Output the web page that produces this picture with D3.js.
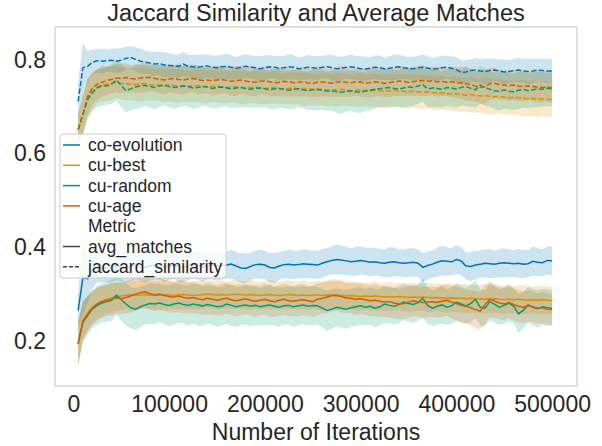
<!DOCTYPE html>
<html>
<head>
<meta charset="UTF-8">
<title>Jaccard Similarity and Average Matches</title>
<script src="https://d3js.org/d3.v7.min.js"></script>
<style>
    body { margin: 0; background: #fff; }
    svg { display: block; font-family: "Liberation Sans", Arial, sans-serif; }
</style>
</head>
<body>
<svg id="chart" width="602" height="446"></svg>
<script>
    // sampled every 5000 iterations
    const iterations = d3.range(5000, 500001, 5000);
    const algorithms = ["co-evolution", "cu-best", "cu-random", "cu-age"];
    const metrics = ["avg_matches", "jaccard_similarity"];
    const xTicks = [0, 100000, 200000, 300000, 400000, 500000];
    const yTicks = [0.2, 0.4, 0.6, 0.8];

    // jaccard_similarity means
    const coevoJaccard = [
        0.711,0.783,0.786,0.795,0.798,0.797,0.798,0.799,0.797,0.799,
        0.803,0.805,0.801,0.797,0.795,0.793,0.791,0.792,0.789,0.788,
        0.787,0.786,0.791,0.786,0.785,0.784,0.786,0.787,0.784,0.783,
        0.785,0.786,0.784,0.782,0.784,0.786,0.785,0.783,0.781,0.783,
        0.785,0.784,0.782,0.783,0.785,0.784,0.781,0.782,0.784,0.783,
        0.782,0.784,0.785,0.783,0.781,0.782,0.784,0.785,0.783,0.781,
        0.780,0.782,0.784,0.783,0.781,0.782,0.784,0.785,0.783,0.782,
        0.781,0.783,0.784,0.782,0.780,0.781,0.783,0.784,0.782,0.779,
        0.773,0.774,0.777,0.778,0.776,0.775,0.777,0.778,0.776,0.774,
        0.775,0.777,0.778,0.776,0.775,0.776,0.778,0.777,0.776,0.776];
    const bestJaccard = [
        0.651,0.683,0.718,0.733,0.742,0.746,0.748,0.750,0.752,0.750,
        0.749,0.748,0.747,0.748,0.749,0.747,0.746,0.747,0.745,0.746,
        0.745,0.744,0.745,0.743,0.744,0.745,0.743,0.742,0.743,0.744,
        0.742,0.741,0.742,0.743,0.741,0.740,0.741,0.742,0.740,0.739,
        0.740,0.741,0.739,0.738,0.739,0.740,0.738,0.737,0.738,0.737,
        0.736,0.737,0.736,0.735,0.736,0.737,0.735,0.734,0.735,0.736,
        0.735,0.734,0.735,0.734,0.733,0.734,0.735,0.734,0.733,0.732,
        0.733,0.732,0.731,0.732,0.730,0.729,0.730,0.728,0.727,0.728,
        0.726,0.725,0.726,0.724,0.723,0.724,0.722,0.721,0.722,0.720,
        0.719,0.720,0.719,0.718,0.717,0.718,0.716,0.717,0.716,0.715];
    const randomJaccard = [
        0.651,0.683,0.715,0.730,0.740,0.745,0.744,0.748,0.757,0.745,
        0.734,0.738,0.742,0.744,0.745,0.743,0.741,0.744,0.746,0.743,
        0.741,0.742,0.744,0.743,0.740,0.741,0.743,0.742,0.739,0.741,
        0.742,0.740,0.738,0.740,0.741,0.739,0.737,0.739,0.740,0.738,
        0.736,0.738,0.739,0.737,0.735,0.737,0.738,0.736,0.734,0.736,
        0.737,0.735,0.733,0.734,0.732,0.731,0.733,0.734,0.732,0.731,
        0.733,0.735,0.737,0.738,0.740,0.741,0.739,0.738,0.740,0.742,
        0.741,0.744,0.747,0.738,0.740,0.739,0.737,0.741,0.740,0.738,
        0.741,0.743,0.739,0.736,0.746,0.741,0.737,0.734,0.733,0.736,
        0.733,0.732,0.735,0.737,0.734,0.736,0.738,0.737,0.739,0.738];
    const ageJaccard = [
        0.651,0.683,0.722,0.740,0.748,0.752,0.756,0.758,0.761,0.760,
        0.762,0.760,0.759,0.761,0.762,0.763,0.760,0.758,0.757,0.759,
        0.760,0.758,0.757,0.759,0.760,0.758,0.756,0.757,0.755,0.757,
        0.758,0.756,0.754,0.755,0.757,0.755,0.753,0.752,0.754,0.755,
        0.753,0.751,0.752,0.754,0.753,0.751,0.752,0.753,0.751,0.750,
        0.752,0.753,0.751,0.750,0.752,0.754,0.752,0.751,0.753,0.752,
        0.750,0.751,0.753,0.752,0.750,0.751,0.753,0.755,0.754,0.752,
        0.753,0.755,0.756,0.754,0.755,0.753,0.754,0.752,0.753,0.751,
        0.751,0.749,0.747,0.744,0.741,0.743,0.749,0.750,0.747,0.746,
        0.745,0.746,0.744,0.743,0.744,0.743,0.742,0.741,0.742,0.740];

    // avg_matches means
    const coevoMatches = [
        0.265,0.335,0.333,0.352,0.358,0.356,0.355,0.358,0.360,0.357,
        0.356,0.359,0.361,0.358,0.357,0.360,0.362,0.359,0.358,0.360,
        0.361,0.359,0.357,0.360,0.362,0.361,0.358,0.360,0.362,0.360,
        0.361,0.362,0.364,0.360,0.356,0.355,0.359,0.363,0.364,0.362,
        0.357,0.356,0.360,0.363,0.364,0.362,0.363,0.365,0.364,0.363,
        0.362,0.366,0.369,0.372,0.374,0.373,0.371,0.369,0.370,0.372,
        0.370,0.368,0.369,0.367,0.366,0.368,0.369,0.367,0.366,0.367,
        0.368,0.366,0.357,0.361,0.364,0.368,0.371,0.370,0.369,0.374,
        0.371,0.360,0.359,0.362,0.364,0.366,0.365,0.364,0.366,0.367,
        0.366,0.365,0.366,0.364,0.365,0.370,0.368,0.367,0.372,0.371];
    const bestMatches = [
        0.194,0.243,0.260,0.272,0.280,0.285,0.289,0.292,0.294,0.296,
        0.297,0.298,0.297,0.298,0.299,0.298,0.297,0.298,0.299,0.298,
        0.297,0.298,0.299,0.298,0.297,0.298,0.299,0.300,0.299,0.298,
        0.299,0.298,0.299,0.300,0.299,0.298,0.299,0.298,0.297,0.298,
        0.299,0.298,0.297,0.298,0.299,0.298,0.297,0.298,0.297,0.298,
        0.298,0.297,0.298,0.297,0.296,0.297,0.296,0.297,0.296,0.295,
        0.296,0.295,0.296,0.295,0.294,0.295,0.294,0.295,0.294,0.293,
        0.294,0.293,0.294,0.293,0.292,0.293,0.292,0.291,0.292,0.291,
        0.291,0.290,0.291,0.290,0.289,0.290,0.289,0.290,0.289,0.288,
        0.289,0.288,0.289,0.288,0.287,0.288,0.287,0.288,0.287,0.286];
    const randomMatches = [
        0.194,0.240,0.255,0.268,0.276,0.281,0.284,0.287,0.298,0.288,
        0.279,0.271,0.268,0.273,0.277,0.280,0.279,0.281,0.278,0.276,
        0.279,0.281,0.278,0.276,0.279,0.277,0.275,0.278,0.276,0.273,
        0.274,0.279,0.276,0.273,0.275,0.277,0.274,0.276,0.273,0.275,
        0.277,0.274,0.272,0.275,0.276,0.273,0.275,0.277,0.274,0.276,
        0.275,0.270,0.265,0.268,0.272,0.270,0.268,0.271,0.273,0.275,
        0.272,0.274,0.270,0.273,0.279,0.276,0.274,0.278,0.283,0.280,
        0.278,0.282,0.291,0.276,0.270,0.274,0.277,0.272,0.275,0.283,
        0.279,0.275,0.280,0.289,0.272,0.270,0.284,0.278,0.272,0.276,
        0.281,0.274,0.258,0.266,0.277,0.272,0.269,0.273,0.271,0.270];
    const ageMatches = [
        0.194,0.243,0.257,0.270,0.279,0.284,0.287,0.289,0.292,0.290,
        0.293,0.296,0.300,0.303,0.305,0.301,0.298,0.300,0.297,0.295,
        0.294,0.296,0.293,0.291,0.293,0.290,0.288,0.291,0.289,0.287,
        0.289,0.291,0.288,0.286,0.288,0.290,0.287,0.285,0.287,0.289,
        0.286,0.284,0.287,0.289,0.286,0.285,0.287,0.288,0.286,0.284,
        0.289,0.291,0.294,0.297,0.298,0.295,0.292,0.291,0.289,0.290,
        0.288,0.286,0.287,0.285,0.283,0.284,0.281,0.279,0.280,0.283,
        0.286,0.284,0.282,0.283,0.284,0.282,0.285,0.287,0.283,0.280,
        0.276,0.274,0.271,0.267,0.264,0.278,0.289,0.285,0.281,0.279,
        0.282,0.278,0.274,0.272,0.275,0.273,0.270,0.271,0.268,0.267];

    // 95% CI half widths
    const coevoJaccardCi = [
        0.040,0.053,0.032,0.027,0.025,0.026,0.024,0.025,0.027,0.026,
        0.025,0.024,0.026,0.027,0.025,0.024,0.026,0.025,0.027,0.026,
        0.024,0.025,0.026,0.024,0.025,0.027,0.026,0.024,0.025,0.026,
        0.025,0.027,0.026,0.024,0.025,0.026,0.024,0.025,0.027,0.026,
        0.025,0.024,0.026,0.025,0.027,0.026,0.024,0.025,0.026,0.025,
        0.026,0.024,0.025,0.027,0.026,0.025,0.024,0.026,0.025,0.027,
        0.026,0.024,0.025,0.026,0.024,0.025,0.027,0.026,0.025,0.024,
        0.026,0.025,0.027,0.026,0.024,0.025,0.026,0.024,0.025,0.027,
        0.026,0.025,0.024,0.026,0.025,0.027,0.026,0.024,0.025,0.026,
        0.025,0.024,0.026,0.025,0.027,0.026,0.024,0.025,0.026,0.025];
    const bestJaccardCi = [
        0.030,0.042,0.040,0.038,0.036,0.035,0.037,0.036,0.034,0.035,
        0.036,0.034,0.035,0.037,0.036,0.034,0.033,0.035,0.036,0.034,
        0.035,0.036,0.034,0.033,0.035,0.034,0.036,0.035,0.033,0.034,
        0.035,0.034,0.033,0.035,0.036,0.034,0.033,0.034,0.035,0.034,
        0.033,0.035,0.034,0.033,0.034,0.035,0.034,0.036,0.035,0.034,
        0.033,0.034,0.035,0.034,0.036,0.035,0.034,0.033,0.035,0.036,
        0.034,0.035,0.036,0.034,0.035,0.036,0.035,0.034,0.036,0.037,
        0.035,0.036,0.037,0.035,0.036,0.037,0.036,0.035,0.037,0.038,
        0.037,0.036,0.038,0.037,0.036,0.038,0.039,0.037,0.036,0.038,
        0.037,0.036,0.038,0.039,0.037,0.038,0.039,0.038,0.037,0.038];
    const randomJaccardCi = [
        0.030,0.045,0.042,0.040,0.041,0.043,0.040,0.042,0.044,0.046,
        0.047,0.045,0.048,0.046,0.044,0.045,0.047,0.045,0.043,0.044,
        0.046,0.044,0.042,0.043,0.045,0.044,0.042,0.041,0.043,0.044,
        0.042,0.040,0.041,0.043,0.042,0.040,0.039,0.041,0.042,0.040,
        0.041,0.043,0.042,0.040,0.041,0.042,0.040,0.039,0.041,0.043,
        0.044,0.042,0.041,0.043,0.045,0.046,0.044,0.043,0.045,0.044,
        0.042,0.043,0.041,0.040,0.042,0.041,0.039,0.040,0.042,0.041,
        0.040,0.038,0.036,0.039,0.041,0.040,0.038,0.039,0.041,0.040,
        0.039,0.041,0.040,0.038,0.040,0.039,0.037,0.039,0.041,0.040,
        0.039,0.038,0.040,0.039,0.037,0.038,0.039,0.037,0.038,0.037];
    const ageJaccardCi = [
        0.030,0.040,0.038,0.035,0.032,0.030,0.031,0.029,0.030,0.032,
        0.031,0.029,0.030,0.032,0.031,0.030,0.028,0.030,0.031,0.029,
        0.030,0.032,0.031,0.029,0.030,0.031,0.029,0.028,0.030,0.031,
        0.030,0.029,0.031,0.032,0.030,0.029,0.031,0.030,0.028,0.030,
        0.031,0.029,0.030,0.032,0.031,0.029,0.030,0.031,0.029,0.030,
        0.032,0.031,0.029,0.030,0.031,0.033,0.031,0.030,0.029,0.031,
        0.030,0.032,0.031,0.029,0.030,0.031,0.030,0.032,0.031,0.029,
        0.030,0.031,0.033,0.031,0.030,0.032,0.031,0.030,0.032,0.033,
        0.034,0.036,0.035,0.033,0.035,0.037,0.034,0.033,0.032,0.031,
        0.032,0.033,0.031,0.032,0.030,0.031,0.033,0.032,0.031,0.032];
    const coevoMatchesCi = [
        0.035,0.080,0.050,0.040,0.033,0.031,0.030,0.032,0.031,0.029,
        0.030,0.031,0.029,0.030,0.032,0.031,0.030,0.029,0.031,0.030,
        0.029,0.031,0.032,0.030,0.029,0.030,0.031,0.029,0.030,0.031,
        0.030,0.029,0.031,0.030,0.032,0.031,0.029,0.030,0.031,0.030,
        0.031,0.032,0.030,0.029,0.031,0.030,0.029,0.031,0.030,0.029,
        0.030,0.031,0.029,0.030,0.032,0.031,0.030,0.029,0.031,0.030,
        0.029,0.031,0.030,0.029,0.030,0.032,0.031,0.029,0.030,0.031,
        0.030,0.029,0.031,0.030,0.029,0.031,0.032,0.030,0.029,0.031,
        0.030,0.029,0.031,0.030,0.029,0.030,0.031,0.029,0.030,0.031,
        0.030,0.029,0.031,0.030,0.029,0.031,0.030,0.029,0.030,0.031];
    const bestMatchesCi = [
        0.045,0.040,0.036,0.034,0.033,0.032,0.031,0.032,0.030,0.031,
        0.030,0.031,0.032,0.030,0.029,0.031,0.030,0.029,0.031,0.030,
        0.029,0.030,0.031,0.029,0.030,0.031,0.030,0.029,0.030,0.031,
        0.030,0.029,0.030,0.031,0.029,0.030,0.031,0.030,0.029,0.030,
        0.031,0.030,0.029,0.030,0.031,0.029,0.030,0.031,0.030,0.029,
        0.030,0.031,0.029,0.030,0.031,0.030,0.029,0.030,0.031,0.030,
        0.029,0.030,0.031,0.029,0.030,0.031,0.030,0.029,0.030,0.031,
        0.030,0.029,0.030,0.031,0.030,0.029,0.030,0.031,0.030,0.029,
        0.030,0.031,0.030,0.029,0.030,0.031,0.030,0.029,0.030,0.031,
        0.030,0.029,0.030,0.031,0.030,0.029,0.030,0.031,0.030,0.029];
    const randomMatchesCi = [
        0.045,0.043,0.041,0.040,0.042,0.041,0.043,0.044,0.042,0.045,
        0.046,0.044,0.045,0.043,0.042,0.044,0.043,0.041,0.042,0.044,
        0.043,0.042,0.041,0.043,0.042,0.044,0.043,0.041,0.042,0.043,
        0.041,0.042,0.044,0.043,0.041,0.042,0.043,0.041,0.040,0.042,
        0.043,0.041,0.042,0.040,0.041,0.043,0.042,0.040,0.041,0.042,
        0.040,0.041,0.043,0.042,0.040,0.041,0.042,0.040,0.041,0.040,
        0.039,0.040,0.041,0.039,0.040,0.038,0.039,0.040,0.038,0.039,
        0.040,0.038,0.042,0.039,0.038,0.039,0.040,0.038,0.039,0.040,
        0.039,0.038,0.040,0.041,0.039,0.038,0.040,0.039,0.038,0.039,
        0.040,0.038,0.041,0.039,0.038,0.039,0.040,0.038,0.039,0.038];
    const ageMatchesCi = [
        0.045,0.042,0.038,0.036,0.035,0.034,0.033,0.035,0.034,0.033,
        0.034,0.035,0.036,0.034,0.035,0.033,0.034,0.035,0.033,0.034,
        0.033,0.035,0.034,0.033,0.034,0.032,0.033,0.034,0.033,0.032,
        0.034,0.033,0.032,0.034,0.033,0.032,0.033,0.034,0.032,0.033,
        0.034,0.032,0.033,0.034,0.033,0.032,0.034,0.033,0.032,0.033,
        0.034,0.033,0.035,0.034,0.033,0.034,0.033,0.032,0.034,0.033,
        0.032,0.033,0.034,0.033,0.032,0.034,0.033,0.032,0.033,0.034,
        0.033,0.032,0.034,0.033,0.032,0.033,0.034,0.033,0.035,0.036,
        0.037,0.036,0.038,0.040,0.039,0.042,0.038,0.036,0.035,0.034,
        0.033,0.034,0.035,0.033,0.034,0.033,0.032,0.034,0.033,0.032];

    const palette = ["#0173b2", "#de8f05", "#029e73", "#d55e00"];
    const textColor = "#262626";
    const fontStack = '"Liberation Sans", Arial, sans-serif';

    const means = {
        avg_matches: [coevoMatches, bestMatches, randomMatches, ageMatches],
        jaccard_similarity: [coevoJaccard, bestJaccard, randomJaccard, ageJaccard]
    };
    const cis = {
        avg_matches: [coevoMatchesCi, bestMatchesCi, randomMatchesCi, ageMatchesCi],
        jaccard_similarity: [coevoJaccardCi, bestJaccardCi, randomJaccardCi, ageJaccardCi]
    };

    const series = [];
    algorithms.forEach((algo, a) => {
        metrics.forEach(metric => {
            series.push({
                algo: algo,
                metric: metric,
                color: palette[a],
                mean: means[metric][a],
                ci: cis[metric][a]
            });
        });
    });

    const svg = d3.select("#chart");
    const plot = {left: 55, right: 577, top: 27, bottom: 386};

    const x = d3.scaleLinear()
        .domain([-19130, 526000])
        .range([plot.left, plot.right]);
    const y = d3.scaleLinear()
        .domain([0.104, 0.870])
        .range([plot.bottom, plot.top]);

    // bands first, lines on top
    const band = d3.area()
        .x((d, i) => x(iterations[i]))
        .y0(d => y(d.m - d.c))
        .y1(d => y(d.m + d.c));

    series.forEach(s => {
        const pts = s.mean.map((m, i) => ({m: m, c: s.ci[i]}));
        svg.append("path")
            .datum(pts)
            .attr("fill", s.color)
            .attr("fill-opacity", 0.2)
            .attr("stroke", "none")
            .attr("d", band);
    });

    const line = d3.line()
        .x((d, i) => x(iterations[i]))
        .y(d => y(d));

    series.forEach(s => {
        svg.append("path")
            .datum(s.mean)
            .attr("fill", "none")
            .attr("stroke", s.color)
            .attr("stroke-width", 1.5)
            .attr("stroke-dasharray", s.metric === "jaccard_similarity" ? "5.5,2.2" : null)
            .attr("d", line);
    });

    // frame
    svg.append("rect")
        .attr("x", plot.left)
        .attr("y", plot.top)
        .attr("width", plot.right - plot.left)
        .attr("height", plot.bottom - plot.top)
        .attr("fill", "none")
        .attr("stroke", "#cccccc")
        .attr("stroke-width", 1.2);

    const xAxis = d3.axisBottom(x).tickValues(xTicks).tickSize(0).tickPadding(10).tickFormat(d3.format("d"));
    const yAxis = d3.axisLeft(y).tickValues(yTicks).tickSize(0).tickPadding(9).tickFormat(d3.format(".1f"));

    const gx = svg.append("g")
        .attr("transform", `translate(0,${plot.bottom})`)
        .call(xAxis);
    const gy = svg.append("g")
        .attr("transform", `translate(${plot.left},0)`)
        .call(yAxis);

    [gx, gy].forEach(g => {
        g.select(".domain").remove();
        g.selectAll("text")
            .attr("fill", textColor)
            .style("font-family", fontStack)
            .style("font-size", "23px");
    });

    svg.append("text")
        .attr("x", (plot.left + plot.right) / 2)
        .attr("y", 21)
        .attr("text-anchor", "middle")
        .attr("fill", textColor)
        .style("font-size", "23.5px")
        .text("Jaccard Similarity and Average Matches");

    svg.append("text")
        .attr("x", (plot.left + plot.right) / 2)
        .attr("y", 440)
        .attr("text-anchor", "middle")
        .attr("fill", textColor)
        .style("font-size", "23px")
        .text("Number of Iterations");

    // legend
    const legendRows = algorithms.map((name, i) => ({label: name, color: palette[i], dash: null}))
        .concat([
            {label: "Metric", color: null, dash: null},
            {label: "avg_matches", color: "#444444", dash: null},
            {label: "jaccard_similarity", color: "#444444", dash: "4,2"}
        ]);

    const legend = svg.append("g");
    legend.append("rect")
        .attr("x", 60)
        .attr("y", 134)
        .attr("width", 166)
        .attr("height", 144)
        .attr("rx", 3)
        .attr("fill", "#ffffff")
        .attr("fill-opacity", 0.8)
        .attr("stroke", "#cccccc")
        .attr("stroke-width", 1);

    legendRows.forEach((r, i) => {
        const cy = 145 + i * 20.3;
        if (r.color) {
            legend.append("line")
                .attr("x1", 63).attr("x2", 80)
                .attr("y1", cy).attr("y2", cy)
                .attr("stroke", r.color)
                .attr("stroke-width", 1.5)
                .attr("stroke-dasharray", r.dash);
        }
        legend.append("text")
            .attr("x", 88)
            .attr("y", cy)
            .attr("dy", "0.35em")
            .attr("fill", textColor)
            .style("font-size", "17.5px")
            .text(r.label);
    });
</script>
</body>
</html>
